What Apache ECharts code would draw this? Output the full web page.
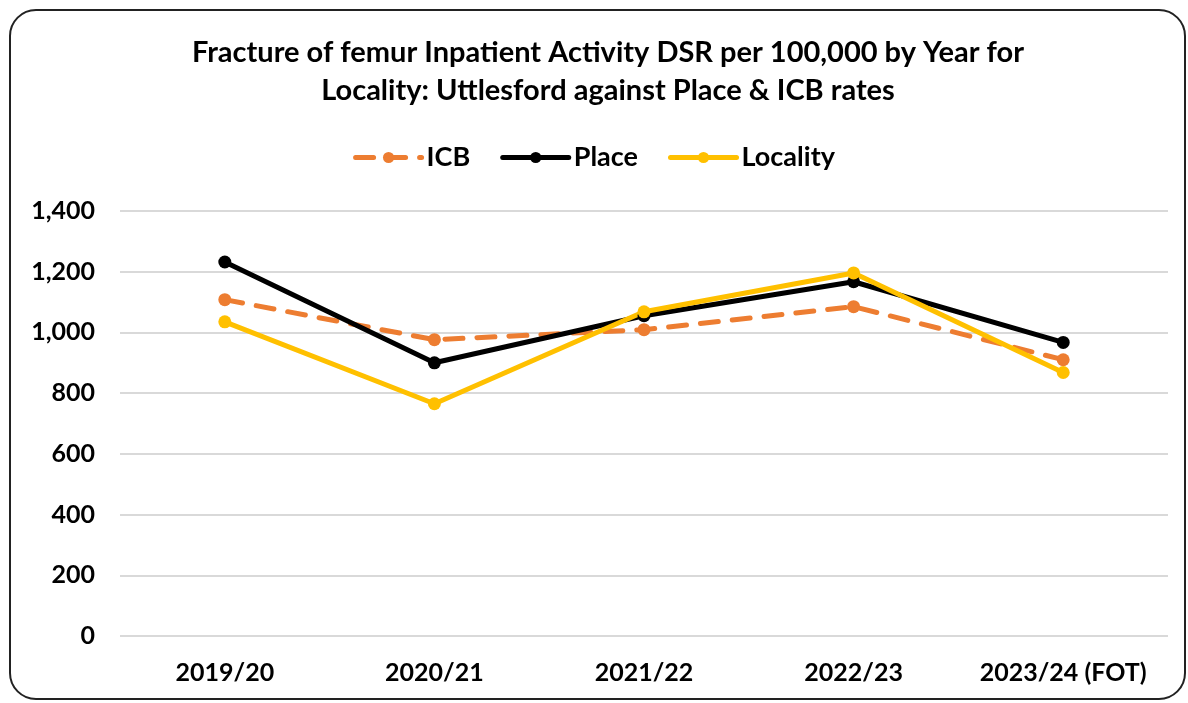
<!DOCTYPE html>
<html>
<head>
<meta charset="utf-8">
<script src="https://cdn.jsdelivr.net/npm/echarts@6/dist/echarts.min.js"></script>
<style>
  html, body { margin: 0; padding: 0; background: #fff; }
  #chart { width: 1188px; height: 703px; }
</style>
</head>
<body>
<div id="chart"></div>
<script>
const years = ["2019/20", "2020/21", "2021/22", "2022/23", "2023/24 (FOT)"];
const icb = [1108, 976, 1009, 1085, 910];
const place = [1232, 900, 1055, 1167, 967];
const locality = [1035, 765, 1068, 1196, 868];
const yTicks = { min: 0, max: 1400, interval: 200 };

const font = "Lato, 'Open Sans', sans-serif";
const chart = echarts.init(document.getElementById("chart"));

function line(name, data, color, dashed) {
  return {
    name,
    type: "line",
    data,
    symbol: "circle",
    symbolSize: 13,
    lineStyle: { width: 5, color, type: dashed ? [18, 14] : "solid", cap: "round" },
    itemStyle: { color },
    emphasis: { disabled: true }
  };
}

chart.setOption({
  animation: false,
  graphic: [{
    type: "rect",
    shape: { x: 10, y: 10, width: 1175, height: 689, r: 26 },
    style: { fill: null, stroke: "#222", lineWidth: 2 }
  }],
  title: {
    text: "Fracture of femur Inpatient Activity DSR per 100,000 by Year for\nLocality: Uttlesford against Place & ICB rates",
    left: 603,
    textAlign: "center",
    top: 29,
    textStyle: { fontFamily: font, fontSize: 29, fontWeight: "bold", color: "#000", lineHeight: 38 }
  },
  legend: {
    top: 139,
    left: "center",
    itemWidth: 66,
    itemHeight: 14,
    itemGap: 30,
    lineStyle: { width: 5 },
    textStyle: { fontFamily: font, fontSize: 27, fontWeight: "bold", color: "#000" },
    data: ["ICB", "Place", "Locality"]
  },
  grid: { left: 120, right: 20, top: 211, bottom: 67 },
  xAxis: {
    type: "category",
    data: years,
    axisLine: { show: false },
    axisTick: { show: false },
    axisLabel: { interval: 0, fontFamily: font, fontSize: 25, fontWeight: "bold", color: "#000", margin: 24 }
  },
  yAxis: {
    type: "value",
    min: yTicks.min,
    max: yTicks.max,
    interval: yTicks.interval,
    axisLabel: {
      fontFamily: font, fontSize: 25, fontWeight: "bold", color: "#000", margin: 25,
      formatter: v => v.toLocaleString("en-GB")
    },
    splitLine: { lineStyle: { color: "#d9d9d9", width: 2 } }
  },
  series: [
    line("ICB", icb, "#ED7D31", true),
    line("Place", place, "#000000", false),
    line("Locality", locality, "#FFC000", false)
  ]
});
</script>
</body>
</html>
